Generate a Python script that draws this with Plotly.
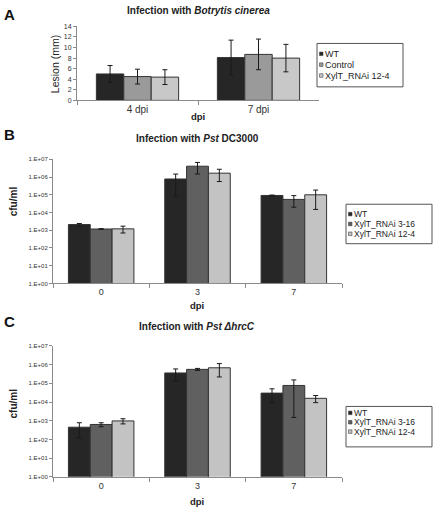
import plotly.graph_objects as go

W, H = 435, 514


def px(x):
    return x / W


def py(y):
    return 1 - y / H


FONT = "Arial, Liberation Sans, sans-serif"

# ---------------- Panel A data ----------------
a_categories = ["4 dpi", "7 dpi"]
a_series = ["WT", "Control", "XylT_RNAi 12-4"]
a_wt = [5.0, 8.1]
a_wt_err = [1.6, 3.3]
a_control = [4.5, 8.7]
a_control_err = [1.4, 2.9]
a_xylt124 = [4.4, 8.0]
a_xylt124_err = [1.4, 2.6]
a_yticks = [0, 2, 4, 6, 8, 10, 12, 14]

# ---------------- Panel B data ----------------
b_categories = ["0", "3", "7"]
b_series = ["WT", "XylT_RNAi 3-16", "XylT_RNAi 12-4"]
b_wt = [2.1e3, 7.8e5, 9.2e4]
b_wt_err = [0.3e3, 7.0e5, 0.5e4]
b_xylt316 = [1.18e3, 4.1e6, 5.5e4]
b_xylt316_err = [0.05e3, 2.6e6, 3.5e4]
b_xylt124 = [1.2e3, 1.66e6, 1.0e5]
b_xylt124_err = [0.5e3, 1.1e6, 8.5e4]

# ---------------- Panel C data ----------------
c_categories = ["0", "3", "7"]
c_series = ["WT", "XylT_RNAi 3-16", "XylT_RNAi 12-4"]
c_wt = [450, 3.6e5, 3.0e4]
c_wt_err = [330, 2.3e5, 2.1e4]
c_xylt316 = [630, 5.6e5, 7.7e4]
c_xylt316_err = [150, 0.7e5, 7.55e4]
c_xylt124 = [975, 6.8e5, 1.58e4]
c_xylt124_err = [300, 4.6e5, 6.5e3]

log_tickvals = [1, 10, 100, 1e3, 1e4, 1e5, 1e6, 1e7]
log_ticktext = ["1.E+00", "1.E+01", "1.E+02", "1.E+03", "1.E+04", "1.E+05", "1.E+06", "1.E+07"]

a_colors = ["#262626", "#9a9a9a", "#c8c8c8"]
bc_colors = ["#262626", "#606060", "#c3c3c3"]

fig = go.Figure()


def add_bars(cats, names, vals, errs, colors, xa, ya):
    for n, v, e, c in zip(names, vals, errs, colors):
        fig.add_trace(go.Bar(
            x=cats, y=v, name=n, marker=dict(color=c, line=dict(color="#333333", width=1)),
            error_y=dict(type="data", array=e, visible=True, color="#1a1a1a", thickness=1, width=2.5),
            xaxis=xa, yaxis=ya, showlegend=False))


add_bars(a_categories, a_series, [a_wt, a_control, a_xylt124],
         [a_wt_err, a_control_err, a_xylt124_err], a_colors, "x", "y")
add_bars(b_categories, b_series, [b_wt, b_xylt316, b_xylt124],
         [b_wt_err, b_xylt316_err, b_xylt124_err], bc_colors, "x2", "y2")
add_bars(c_categories, c_series, [c_wt, c_xylt316, c_xylt124],
         [c_wt_err, c_xylt316_err, c_xylt124_err], bc_colors, "x3", "y3")

axcol = "#8a8a8a"
xcommon = dict(type="category", showline=True, linecolor=axcol, linewidth=1, ticks="outside",
               tickson="boundaries", ticklen=4, tickcolor=axcol, showgrid=False,
               zeroline=False)
ycommon = dict(showline=True, linecolor=axcol, linewidth=1, ticks="outside", ticklen=3,
               tickcolor=axcol, showgrid=False, zeroline=False)

fig.update_layout(
    xaxis=dict(domain=[px(77), px(319)], anchor="y",
               tickfont=dict(family=FONT, size=10, color="#333333"), **xcommon),
    yaxis=dict(domain=[py(97.7), py(22.7)], anchor="x", range=[0, 14], tickvals=a_yticks,
               tickfont=dict(family=FONT, size=7, color="#333333"), **ycommon),
    xaxis2=dict(domain=[px(53), px(342)], anchor="y2",
                tickfont=dict(family=FONT, size=9, color="#333333"), **xcommon),
    yaxis2=dict(domain=[py(283.3), py(157.5)], anchor="x2", type="log", range=[0, 7],
                tickvals=log_tickvals, ticktext=log_ticktext,
                tickfont=dict(family=FONT, size=6, color="#333333"), **ycommon),
    xaxis3=dict(domain=[px(53), px(342)], anchor="y3",
                tickfont=dict(family=FONT, size=9, color="#333333"), **xcommon),
    yaxis3=dict(domain=[py(479.3), py(346.7)], anchor="x3", type="log", range=[0, 7],
                tickvals=log_tickvals, ticktext=log_ticktext,
                tickfont=dict(family=FONT, size=6, color="#333333"), **ycommon),
)

annotations = []
shapes = []


def text(x, y, s, size, bold=False, xanchor="center", angle=0, color="#222222"):
    if bold:
        s = "<b>" + s + "</b>"
    annotations.append(dict(x=px(x), y=py(y), xref="paper", yref="paper", text=s, showarrow=False,
                            xanchor=xanchor, yanchor="middle", textangle=angle, borderpad=0,
                            font=dict(family=FONT, size=size, color=color)))


# panel letters
text(3, 11, "A", 15, bold=True, xanchor="left", color="#111111")
text(3, 132, "B", 15, bold=True, xanchor="left", color="#111111")
text(3, 322, "C", 15, bold=True, xanchor="left", color="#111111")
# titles
text(198, 7, "Infection with <i>Botrytis cinerea</i>", 10, bold=True)
text(197, 136, "Infection with <i>Pst</i> DC3000", 10, bold=True)
text(197, 327, "Infection with <i>Pst ΔhrcC</i>", 10, bold=True)
# axis titles
text(198, 114, "dpi", 9.5, bold=True)
text(197, 306, "dpi", 9.5, bold=True)
text(197, 504, "dpi", 9.5, bold=True)
text(55, 61, "Lesion (mm)", 10.5, angle=-90)
text(13, 200, "cfu/ml", 10, bold=True, angle=-90)
text(13, 405, "cfu/ml", 10, bold=True, angle=-90)


def legend(x0, y0, x1, y1, rows, names, colors, size):
    shapes.append(dict(type="rect", xref="paper", yref="paper", x0=px(x0), x1=px(x1),
                       y0=py(y1), y1=py(y0), line=dict(color="#555555", width=1),
                       fillcolor="white"))
    for r, n, c in zip(rows, names, colors):
        shapes.append(dict(type="rect", xref="paper", yref="paper", x0=px(x0 + 2.5), x1=px(x0 + 6),
                           y0=py(r + 1.8), y1=py(r - 1.8), line=dict(color="#444444", width=0.6),
                           fillcolor=c))
        text(x0 + 7, r, n, size, xanchor="left", color="#222222")


legend(317, 40, 403, 84, [50.5, 61.5, 72.5], a_series, a_colors, 9)
legend(346, 203, 432, 243, [213, 223, 233], b_series, bc_colors, 8.5)
legend(346, 408, 432, 449, [414.5, 424, 433.5], c_series, bc_colors, 8.5)

fig.update_layout(
    width=W, height=H, margin=dict(l=0, r=0, t=0, b=0), autosize=False,
    paper_bgcolor="white", plot_bgcolor="white", barmode="group", bargap=0.32, bargroupgap=0,
    annotations=annotations, shapes=shapes, showlegend=False,
    font=dict(family=FONT),
)

fig.write_html("out.html", config={"displayModeBar": False},
               post_script="document.body.style.margin='0px';")
